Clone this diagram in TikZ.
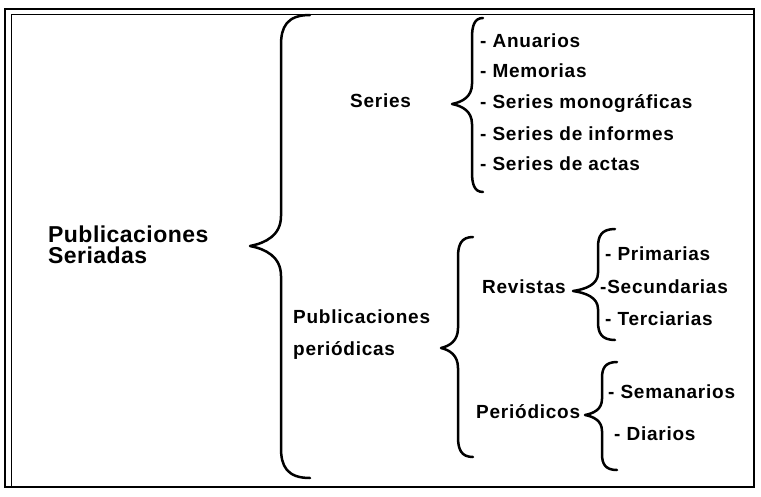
\documentclass[tikz,border=0pt]{standalone}
\usepackage{fontspec}
\usepackage{tikz}

\newfontfamily\rootfont{Liberation Sans}[LetterSpace=2]
\newfontfamily\itemfont{Liberation Sans}[LetterSpace=4]

% brace: x of stem, top y, tip y, bottom y, hook, tip depth, bend
\newcommand{\curlybrace}[7]{%
  \draw[bracestroke] (#1+#5,#2) .. controls (#1+0.2*#5,#2) and (#1,#2+0.4*#7) .. (#1,#2+#7)
    -- (#1,#3-#7) .. controls (#1,#3-0.35*#7) and (#1-0.5*#6,#3-0.1*#7) .. (#1-#6,#3)
    .. controls (#1-0.5*#6,#3+0.1*#7) and (#1,#3+0.35*#7) .. (#1,#3+#7)
    -- (#1,#4-#7) .. controls (#1,#4-0.4*#7) and (#1+0.2*#5,#4) .. (#1+#5,#4);}

\tikzset{
  bracestroke/.style={line width=2.5pt, line cap=round, line join=round},
  roottext/.style={font=\rootfont\bfseries\fontsize{23}{21}\selectfont, anchor=base west, inner sep=0pt, align=left},
  itemtext/.style={font=\itemfont\bfseries\fontsize{19}{32}\selectfont, anchor=base west, inner sep=0pt, align=left}
}

\begin{document}
\begin{tikzpicture}[x=1pt, y=-1pt]
  \useasboundingbox (0,0) rectangle (761,496);

  % frame
  \draw[line width=2pt] (5,9) rectangle (754,487);
  \draw[line width=0.8pt] (11,486) -- (11,14) -- (753,14);

  % first level
  \node[roottext] (seriadas) at (48,263) {Publicaciones\\Seriadas};
  \curlybrace{281}{15}{246}{478}{29}{31}{30}

  % series
  \node[itemtext] (series) at (350,107) {Series};
  \curlybrace{472}{18}{104}{192}{11}{20}{20}
  \node[itemtext] (anuarios) at (480,47) {- Anuarios};
  \node[itemtext] (memorias) at (480,77) {- Memorias};
  \node[itemtext] (monograficas) at (480,108) {- Series monográficas};
  \node[itemtext] (informes) at (480,140) {- Series de informes};
  \node[itemtext] (actas) at (480,170) {- Series de actas};

  % publicaciones periodicas
  \node[itemtext] (periodicas) at (293,355) {Publicaciones\\periódicas};
  \curlybrace{458}{237}{348}{457}{15}{17}{20}

  \node[itemtext] (revistas) at (482,293) {Revistas};
  \curlybrace{598}{229}{291}{340}{17}{25}{18}
  \node[itemtext] (primarias) at (605,260) {- Primarias};
  \node[itemtext] (secundarias) at (600,293) {-Secundarias};
  \node[itemtext] (terciarias) at (605,325) {- Terciarias};

  \node[itemtext] (periodicos) at (476,418) {Periódicos};
  \curlybrace{602}{362}{415}{470}{15}{17}{16}
  \node[itemtext] (semanarios) at (608,398) {- Semanarios};
  \node[itemtext] (diarios) at (614,440) {- Diarios};
\end{tikzpicture}
\end{document}
